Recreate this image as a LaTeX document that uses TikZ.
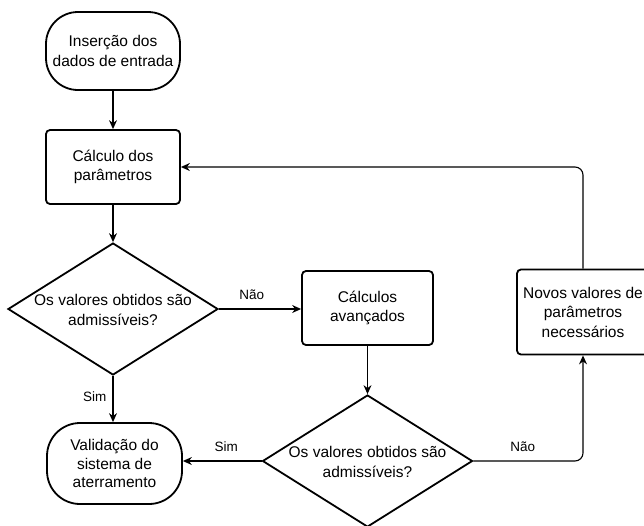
\documentclass[tikz,border=0pt]{standalone}
\usepackage{fontspec}
\setmainfont{Liberation Sans}
\usetikzlibrary{shapes.geometric,arrows.meta}
\begin{document}
\begin{tikzpicture}[x=1pt,y=-1pt,
  txt/.style={font=\fontsize{15.5}{19.5}\selectfont, align=center, inner sep=0pt},
  lbl/.style={font=\fontsize{13.5}{16}\selectfont, inner sep=0pt},
  term/.style={draw, line width=1.8pt, rounded corners=32pt, minimum width=134pt, inner sep=0pt, txt},
  procbox/.style={draw, line width=1.8pt, rounded corners=4pt, inner sep=0pt, txt},
  dia/.style={draw, line width=1.8pt, diamond, inner sep=0pt, minimum width=210pt, minimum height=132pt},
  conn/.style={line width=1.1pt, -{Stealth[length=9pt,width=8pt,inset=3pt]}}
]
\useasboundingbox (0,0) rectangle (644,525);

\node[term, minimum height=78pt] (start) at (113,51) {Inserção dos\\dados de entrada};
\node[procbox, minimum width=134pt, minimum height=74pt] (calc) at (113,167) {Cálculo dos\\parâmetros};
\node[dia] (d1) at (113,309) {};
\node[txt] (d1t) at (113,310) {Os valores obtidos são\\admissíveis?};
\node[term, minimum width=135pt, minimum height=81pt, rounded corners=33pt, font=\fontsize{15.5}{18.5}\selectfont] (valid) at (114.5,463.5) {Validação do\\sistema de\\aterramento};
\node[procbox, minimum width=131pt, minimum height=74pt] (adv) at (367.5,308) {Cálculos\\avançados};
\node[dia] (d2) at (367.5,461) {};
\node[txt] (d2t) at (367.5,462) {Os valores obtidos são\\admissíveis?};
\node[procbox, minimum width=132pt, minimum height=85pt] (novos) at (583,312) {Novos valores de\\parâmetros\\necessários};

\draw[conn] (start.south) -- (calc.north);
\draw[conn] (calc.south) -- (d1.north);
\draw[conn] (d1.east) -- node[lbl, above=9pt, pos=0.4] (nao1) {Não} (adv.west |- d1.east);
\draw[conn] (d1.south) -- node[lbl, left=6pt, pos=0.45] (sim1) {Sim} (valid.north -| d1.south);
\draw[conn] (adv.south) -- (d2.north);
\draw[conn] (d2.west) -- node[lbl, above=9pt, pos=0.45] (sim2) {Sim} (valid.east |- d2.west);
\draw[conn, rounded corners=8pt] (d2.east) -- node[lbl, above=9pt, pos=0.45] (nao2) {Não} (novos.south |- d2.east) -- (novos.south);
\draw[conn, rounded corners=8pt] (novos.north) -- (novos.north |- calc.east) -- (calc.east);
\end{tikzpicture}
\end{document}
